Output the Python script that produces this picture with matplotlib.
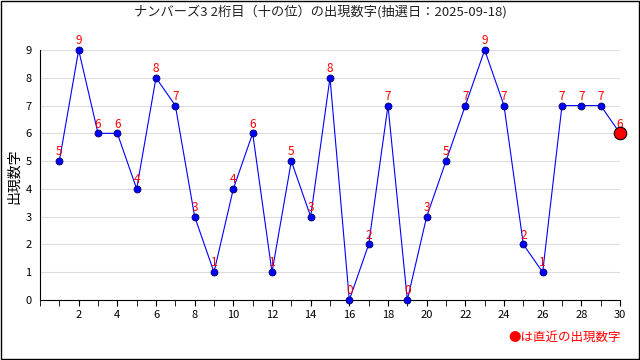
import matplotlib.pyplot as plt
from matplotlib.ticker import MultipleLocator
from matplotlib.patches import Rectangle

plt.rcParams['font.family'] = ['Noto Sans CJK JP', 'DejaVu Sans']

draws = list(range(1, 31))
digits = [5, 9, 6, 6, 4, 8, 7, 3, 1, 4, 6, 1, 5, 3, 8, 0, 2, 7, 0, 3,
          5, 7, 9, 7, 2, 1, 7, 7, 7, 6]
title = "ナンバーズ3 2桁目（十の位）の出現数字(抽選日：2025-09-18)"

fig = plt.figure(figsize=(6.4, 3.6), dpi=100)
ax = fig.add_axes([0.0625, 0.1667, 0.90625, 0.6944])

ax.plot(draws, digits, color="#0000ff", linewidth=0.8, marker="o",
        markersize=5, markerfacecolor="#0000ff", markeredgecolor="#000066",
        markeredgewidth=0.6, clip_on=False, zorder=3)
ax.plot(draws[-1], digits[-1], marker="o", markersize=9, color="red",
        markeredgecolor="black", markeredgewidth=0.8, clip_on=False, zorder=4)

for x, y in zip(draws, digits):
    ax.annotate(str(y), (x, y), xytext=(0, 2), textcoords="offset points",
                ha="center", va="bottom", color="red", fontsize=8.5,
                annotation_clip=False)

ax.set_xlim(0, 30)
ax.set_ylim(0, 9)
ax.xaxis.set_major_locator(MultipleLocator(2))
ax.xaxis.set_minor_locator(MultipleLocator(1))
ax.yaxis.set_major_locator(MultipleLocator(1))
ax.tick_params(axis="x", which="both", direction="out", length=4, labelsize=8, color="black")
ax.tick_params(axis="y", length=0, labelsize=8, pad=6)
ax.set_xticks([t for t in range(2, 31, 2)])
ax.grid(axis="y", color="#dddddd", linewidth=0.8)
ax.set_axisbelow(True)
for s in ["top", "right"]:
    ax.spines[s].set_visible(False)

fig.text(0.5, 0.967, title, ha="center", va="center", fontsize=9.5, color="#222222")
fig.text(0.022, 0.51, "出現数字", rotation=90, ha="center", va="center", fontsize=10)
fig.text(0.97, 0.064, "●は直近の出現数字", ha="right", va="center", fontsize=9, color="red")

fig.patches.append(Rectangle((0.001, 0.002), 0.997, 0.996, transform=fig.transFigure,
                             fill=False, edgecolor="black", linewidth=1))

fig.savefig("out.png", dpi=100)
